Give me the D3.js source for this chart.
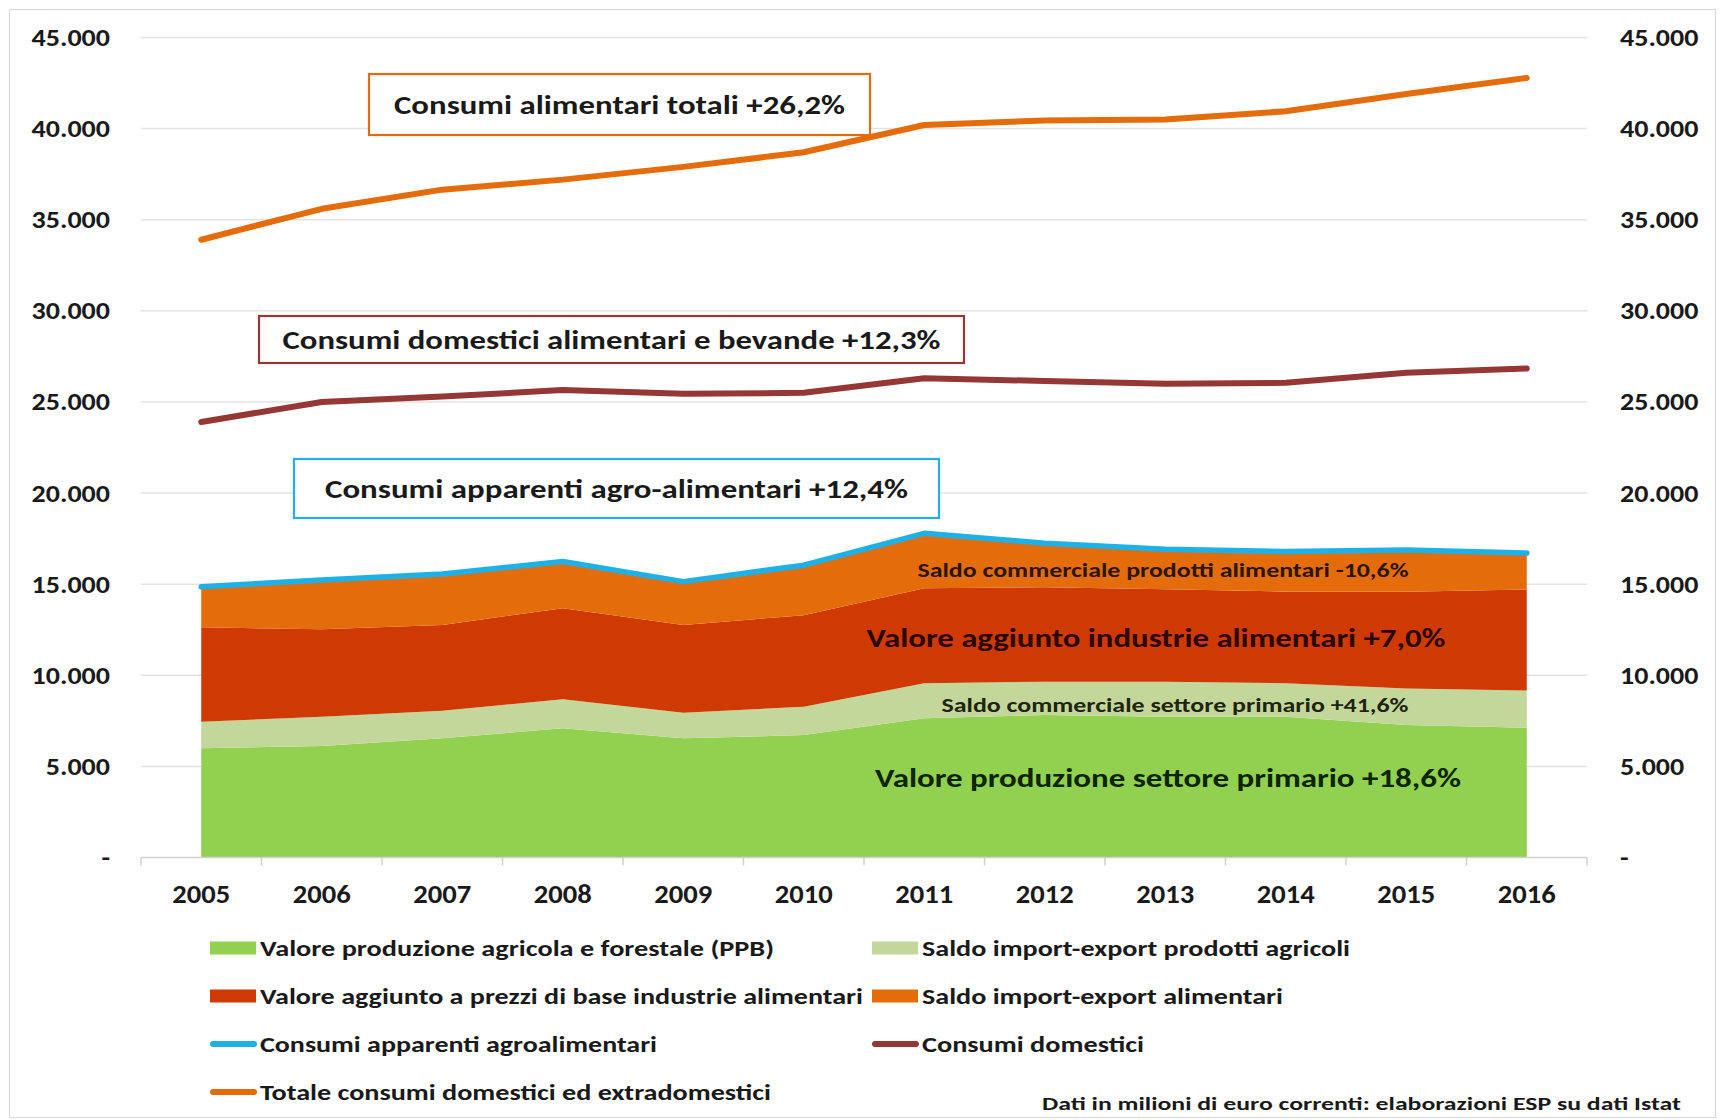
<!DOCTYPE html>
<html>
<head>
<meta charset="utf-8">
<script src="https://cdn.jsdelivr.net/npm/d3@7"></script>
<style>
  html, body { margin: 0; padding: 0; background: #fff; }
  svg { display: block; }
  text { font-family: Calibri, Carlito, Lato, sans-serif; font-weight: 700; fill: #1a1a1a; }
</style>
</head>
<body>
<svg id="chart" width="1723" height="1120"></svg>
<script>
// Filiera agro-alimentare italiana, milioni di euro correnti
const years = [2005, 2006, 2007, 2008, 2009, 2010, 2011, 2012, 2013, 2014, 2015, 2016];

// Componenti impilate
const valoreProduzioneAgricola = [6000, 6120, 6540, 7090, 6540, 6720, 7640, 7820, 7730, 7730, 7270, 7116];
const saldoProdottiAgricoli    = [1450, 1610, 1520, 1590, 1410, 1550, 1920, 1830, 1920, 1830, 2010, 2053];
const valoreAggiuntoIndustrie  = [5180, 4800, 4700, 5000, 4810, 5030, 5210, 5180, 5070, 5030, 5300, 5543];
const saldoAlimentari          = [2228, 2700, 2800, 2560, 2380, 2740, 3020, 2420, 2200, 2200, 2290, 1992];

// Linee
const consumiApparenti = [14858, 15230, 15560, 16240, 15140, 16040, 17790, 17250, 16920, 16790, 16870, 16704];
const consumiDomestici = [23900, 25000, 25300, 25650, 25450, 25500, 26300, 26150, 26000, 26050, 26600, 26840];
const consumiTotali    = [33900, 35600, 36650, 37200, 37900, 38700, 40200, 40450, 40500, 40950, 41900, 42782];

const yTicks = [0, 5000, 10000, 15000, 20000, 25000, 30000, 35000, 40000, 45000];

const areaKeys = ["ppb", "agricoli", "industrie", "alimentari"];
const areaNames = {
  ppb: "Valore produzione agricola e forestale (PPB)",
  agricoli: "Saldo import-export prodotti agricoli",
  industrie: "Valore aggiunto a prezzi di base industrie alimentari",
  alimentari: "Saldo import-export alimentari"
};
const colors = {
  ppb: "#92D050",
  agricoli: "#C4D79B",
  industrie: "#CF3A02",
  alimentari: "#E46C0A",
  apparenti: "#1FB1E6",
  domestici: "#953735",
  totali: "#E46C0A"
};

const table = years.map((yr, i) => ({
  year: yr,
  ppb: valoreProduzioneAgricola[i],
  agricoli: saldoProdottiAgricoli[i],
  industrie: valoreAggiuntoIndustrie[i],
  alimentari: saldoAlimentari[i]
}));

// stretch text horizontally by factor k (the label face is wider than the fallback font)
function widen(sel, k) {
  sel.each(function () {
    const w = this.getComputedTextLength();
    this.setAttribute("textLength", w * k);
    this.setAttribute("lengthAdjust", "spacingAndGlyphs");
  });
}

const svg = d3.select("#chart");

// chart frame
svg.append("rect")
  .attr("x", 9.5).attr("y", 9.5).attr("width", 1706).attr("height", 1108)
  .attr("fill", "#fff").attr("stroke", "#D9D9D9").attr("stroke-width", 1);

const plotLeft = 141, plotRight = 1587, plotTop = 37.5, plotBottom = 857.5;

const x = d3.scalePoint().domain(years).range([plotLeft, plotRight]).padding(0.5);
const y = d3.scaleLinear().domain([0, 45000]).range([plotBottom, plotTop]);

const fmt = v => v === 0 ? "-" : d3.format(",")(v).replace(/,/g, ".");

// gridlines
svg.append("g").selectAll("line")
  .data(yTicks.filter(t => t > 0))
  .join("line")
  .attr("x1", plotLeft).attr("x2", plotRight)
  .attr("y1", d => y(d)).attr("y2", d => y(d))
  .attr("stroke", "#E3E3E3").attr("stroke-width", 1.5);

// left and right value axes
const axisL = svg.append("g").attr("transform", `translate(${plotLeft - 31},0)`)
  .call(d3.axisLeft(y).tickValues(yTicks).tickFormat(fmt).tickSize(0).tickPadding(0));
const axisR = svg.append("g").attr("transform", `translate(${plotRight + 33},0)`)
  .call(d3.axisRight(y).tickValues(yTicks).tickFormat(fmt).tickSize(0).tickPadding(0));
[axisL, axisR].forEach(a => {
  a.select(".domain").remove();
  const t = a.selectAll("text").attr("font-size", 25).attr("fill", "#1a1a1a")
    .style("font-family", "Calibri, Carlito, Lato, sans-serif").style("font-weight", 700);
  widen(t, 1.12);
});

// stacked areas
const stack = d3.stack().keys(areaKeys);
const series = stack(table);
const area = d3.area()
  .x(d => x(d.data.year))
  .y0(d => y(d[0]))
  .y1(d => y(d[1]));
svg.append("g").selectAll("path")
  .data(series)
  .join("path")
  .attr("d", area)
  .attr("fill", d => colors[d.key]);

// category axis
const xAxis = svg.append("g").attr("transform", `translate(0,${plotBottom})`);
xAxis.append("line").attr("x1", plotLeft).attr("x2", plotRight).attr("y1", 0).attr("y2", 0)
  .attr("stroke", "#D0D0D0").attr("stroke-width", 1.5);
const step = x.step();
xAxis.selectAll("line.tick")
  .data(d3.range(years.length + 1))
  .join("line").attr("class", "tick")
  .attr("x1", i => plotLeft + i * step).attr("x2", i => plotLeft + i * step)
  .attr("y1", 0).attr("y2", 8)
  .attr("stroke", "#D0D0D0").attr("stroke-width", 1.5);
const xLabels = xAxis.selectAll("text")
  .data(years)
  .join("text")
  .attr("x", d => x(d)).attr("y", 45)
  .attr("text-anchor", "middle")
  .attr("font-size", 26)
  .text(d => d);
widen(xLabels, 1.1);

// lines
const line = arr => d3.line()
  .x((d, i) => x(years[i]))
  .y(d => y(d))(arr);

svg.append("path").attr("d", line(consumiApparenti))
  .attr("fill", "none").attr("stroke", colors.apparenti).attr("stroke-width", 5.5)
  .attr("stroke-linejoin", "round").attr("stroke-linecap", "round");
svg.append("path").attr("d", line(consumiDomestici))
  .attr("fill", "none").attr("stroke", colors.domestici).attr("stroke-width", 6)
  .attr("stroke-linejoin", "round").attr("stroke-linecap", "round");
svg.append("path").attr("d", line(consumiTotali))
  .attr("fill", "none").attr("stroke", colors.totali).attr("stroke-width", 6)
  .attr("stroke-linejoin", "round").attr("stroke-linecap", "round");

// boxed callouts
const callouts = [
  { text: "Consumi alimentari totali +26,2%", x0: 369, y0: 74, x1: 870, y1: 135, color: colors.totali, len: 451 },
  { text: "Consumi domestici alimentari e bevande +12,3%", x0: 259, y0: 316, x1: 964, y1: 363, color: colors.domestici, len: 658 },
  { text: "Consumi apparenti agro-alimentari +12,4%", x0: 294, y0: 459, x1: 939, y1: 518, color: colors.apparenti, len: 583 }
];
const cg = svg.append("g").selectAll("g").data(callouts).join("g");
cg.append("rect")
  .attr("x", d => d.x0).attr("y", d => d.y0)
  .attr("width", d => d.x1 - d.x0).attr("height", d => d.y1 - d.y0)
  .attr("fill", "#fff").attr("stroke", d => d.color).attr("stroke-width", 2.2);
cg.append("text")
  .attr("x", d => (d.x0 + d.x1) / 2).attr("y", d => (d.y0 + d.y1) / 2)
  .attr("dy", "0.36em")
  .attr("text-anchor", "middle")
  .attr("font-size", 26)
  .attr("textLength", d => d.len).attr("lengthAdjust", "spacingAndGlyphs")
  .text(d => d.text);

// labels inside the areas
const areaLabels = [
  { text: "Saldo commerciale prodotti alimentari -10,6%", cx: 1163, cy: 569, size: 21, len: 491, fill: "#2b1600" },
  { text: "Valore aggiunto industrie alimentari +7,0%", cx: 1156, cy: 637, size: 27, len: 579, fill: "#2a0800" },
  { text: "Saldo commerciale settore primario +41,6%", cx: 1175, cy: 704, size: 21, len: 467, fill: "#1f2410" },
  { text: "Valore produzione settore primario +18,6%", cx: 1168, cy: 777, size: 27, len: 586, fill: "#0d2400" }
];
svg.append("g").selectAll("text").data(areaLabels).join("text")
  .attr("x", d => d.cx).attr("y", d => d.cy).attr("dy", "0.36em")
  .attr("text-anchor", "middle")
  .attr("font-size", d => d.size)
  .attr("textLength", d => d.len).attr("lengthAdjust", "spacingAndGlyphs")
  .style("fill", d => d.fill)
  .text(d => d.text);

// legend
const legendItems = [
  { key: "ppb", type: "rect", label: areaNames.ppb, col: 0, row: 0, len: 514 },
  { key: "agricoli", type: "rect", label: areaNames.agricoli, col: 1, row: 0, len: 428 },
  { key: "industrie", type: "rect", label: areaNames.industrie, col: 0, row: 1, len: 603 },
  { key: "alimentari", type: "rect", label: areaNames.alimentari, col: 1, row: 1, len: 361 },
  { key: "apparenti", type: "line", label: "Consumi apparenti agroalimentari", col: 0, row: 2, len: 397 },
  { key: "domestici", type: "line", label: "Consumi domestici", col: 1, row: 2, len: 222 },
  { key: "totali", type: "line", label: "Totale consumi domestici ed extradomestici", col: 0, row: 3, len: 511 }
];
const colX = [210, 872];
const rowY = [948, 996, 1044, 1092];
const lg = svg.append("g").selectAll("g").data(legendItems).join("g")
  .attr("transform", d => `translate(${colX[d.col]},${rowY[d.row]})`);
lg.filter(d => d.type === "rect").append("rect")
  .attr("x", 0).attr("y", -6.5).attr("width", 46).attr("height", 13)
  .attr("fill", d => colors[d.key]);
lg.filter(d => d.type === "line").append("line")
  .attr("x1", 3).attr("x2", 44).attr("y1", 0).attr("y2", 0)
  .attr("stroke", d => colors[d.key]).attr("stroke-width", 6).attr("stroke-linecap", "round");
lg.append("text")
  .attr("x", 50).attr("y", 0).attr("dy", "0.36em")
  .attr("font-size", 22)
  .attr("textLength", d => d.len).attr("lengthAdjust", "spacingAndGlyphs")
  .text(d => d.label);

// source note
svg.append("text")
  .attr("x", 1681).attr("y", 1103).attr("dy", "0.36em")
  .attr("text-anchor", "end")
  .attr("font-size", 19)
  .attr("textLength", 639).attr("lengthAdjust", "spacingAndGlyphs")
  .text("Dati in milioni di euro correnti: elaborazioni ESP su dati Istat");
</script>
</body>
</html>
